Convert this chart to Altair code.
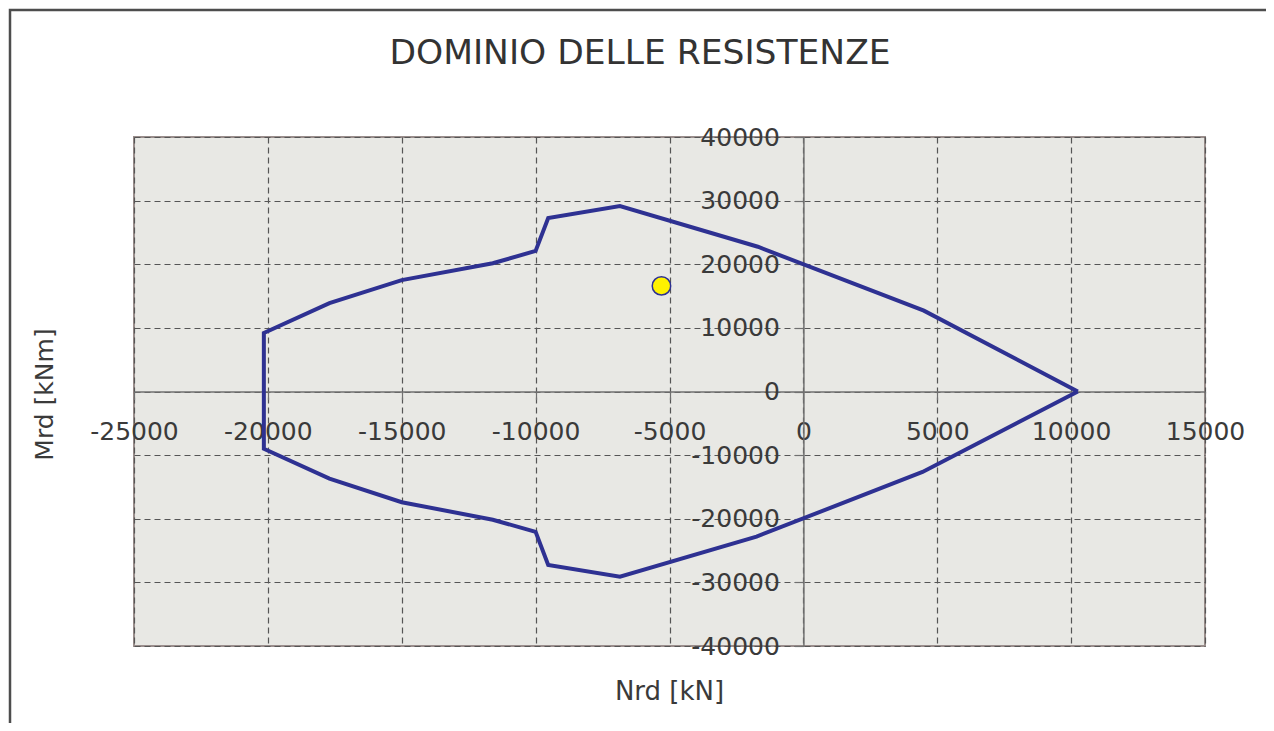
import altair as alt
import pandas as pd

# Resistance domain polygon, in drawing order
N_dom = [10250, 4500, -1700, -6850, -9530, -10000, -11600, -15000, -17700, -20150,
         -20150, -17700, -15000, -11600, -10000, -9530, -6850, -1750, 4450, 10250]
M_dom = [0, 12700, 22750, 29150, 27250, 22100, 20150, 17500, 13900, 9200,
         -9000, -13700, -17400, -20150, -22050, -27250, -29100, -22800, -12650, 0]

# Design point
N_ed = [-5300]
M_ed = [16600]

x_ticks = [-25000, -20000, -15000, -10000, -5000, 0, 5000, 10000, 15000]
y_ticks = [-40000, -30000, -20000, -10000, 0, 10000, 20000, 30000, 40000]

FONT = "DejaVu Sans"
TXT = "#3a3a3a"

dom_df = pd.DataFrame({"i": list(range(len(N_dom))), "N": N_dom, "M": M_dom})
pt_df = pd.DataFrame({"N": N_ed, "M": M_ed})

xscale = alt.Scale(domain=[x_ticks[0], x_ticks[-1]], nice=False, zero=False)
yscale = alt.Scale(domain=[y_ticks[0], y_ticks[-1]], nice=False, zero=False)

xaxis = alt.Axis(
    values=x_ticks, title="Nrd [kN]", offset=-254.5,
    grid=True, gridDash=[6, 4], gridColor="#555555", gridWidth=1.2,
    domainColor="#707070", domainWidth=1.5,
    tickColor="#707070", tickSize=8, tickWidth=1.2,
    labelFont=FONT, labelFontSize=25, labelColor=TXT, labelPadding=20,
    labelFlush=False, labelOverlap=False, labelExpr="'' + datum.value",
    titleFont=FONT, titleFontSize=26, titleColor=TXT, titleFontWeight="normal",
    titleX=535, titleY=299.5, titleBaseline="middle",
)
yaxis = alt.Axis(
    values=y_ticks, title="Mrd [kNm]", offset=-669.4,
    grid=True, gridDash=[6, 4], gridColor="#555555", gridWidth=1.2,
    domainColor="#707070", domainWidth=1.5,
    tickColor="#707070", tickSize=9, tickWidth=1.2,
    labelFont=FONT, labelFontSize=25, labelColor=TXT, labelPadding=15,
    labelFlush=False, labelOverlap=False, labelExpr="'' + datum.value",
    titleFont=FONT, titleFontSize=25, titleColor=TXT, titleFontWeight="normal",
    titleX=-759.4, titleY=257, titleAngle=-90, titleBaseline="middle",
)

frame = alt.Chart(alt.Data(values=[{}])).mark_rect(
    fillOpacity=0, stroke="#4d4d4d", strokeWidth=2.5
).encode(x=alt.value(-124), x2=alt.value(1300), y=alt.value(-127), y2=alt.value(800))

line = alt.Chart(dom_df).mark_line(color="#2E3192", strokeWidth=4).encode(
    x=alt.X("N:Q", scale=xscale, axis=xaxis),
    y=alt.Y("M:Q", scale=yscale, axis=yaxis),
    order="i:Q",
)

point = alt.Chart(pt_df).mark_point(
    shape="circle", filled=True, fill="#FFF200", stroke="#2E3192",
    strokeWidth=1.5, opacity=1, size=340,
).encode(x=alt.X("N:Q", scale=xscale), y=alt.Y("M:Q", scale=yscale))

chart = alt.layer(frame, line, point).properties(
    width=1071, height=509,
    title=alt.TitleParams(
        "DOMINIO DELLE RESISTENZE", font=FONT, fontSize=34.5, fontWeight="normal",
        color="#333333", anchor="middle", frame="group", dx=-29.5,
        baseline="alphabetic", offset=-90,
    ),
    autosize=alt.AutoSizeParams(type="none"),
    padding={"left": 126, "top": 129, "right": 61, "bottom": 77},
).configure_view(fill="#e8e8e4", stroke="#9a8e8c", strokeWidth=2)

chart.save("out.html", embed_options={"renderer": "svg", "actions": False})
